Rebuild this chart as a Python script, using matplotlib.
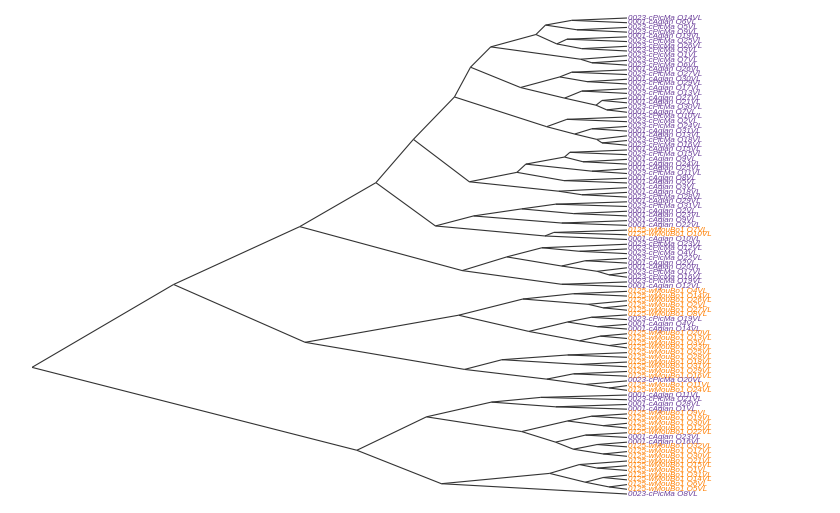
import matplotlib.pyplot as plt

# leaf labels, top to bottom
labels = [
    "0023-cPicMa O14VL", "0001-cAglan O6VL", "0023-cPicMa O5VL", "0023-cPicMa O9VL",
    "0001-cAglan O19VL", "0023-cPicMa O25VL", "0023-cPicMa O26VL", "0023-cPicMa O3VL",
    "0023-cPicMa O1VL", "0023-cPicMa O7VL", "0023-cPicMa O6VL", "0001-cAglan O26VL",
    "0023-cPicMa O27VL", "0001-cAglan O30VL", "0023-cPicMa O29VL", "0001-cAglan O17VL",
    "0023-cPicMa O13VL", "0001-cAglan O27VL", "0001-cAglan O21VL", "0023-cPicMa O30VL",
    "0001-cAglan O7VL", "0023-cPicMa O10VL", "0023-cPicMa O2VL", "0023-cPicMa O24VL",
    "0001-cAglan O31VL", "0001-cAglan O13VL", "0023-cPicMa O18VL", "0023-cPicMa O16VL",
    "0001-cAglan O15VL", "0023-cPicMa O15VL", "0001-cAglan O9VL", "0001-cAglan O24VL",
    "0001-cAglan O25VL", "0023-cPicMa O11VL", "0001-cAglan O8VL", "0001-cAglan O5VL",
    "0001-cAglan O3VL", "0001-cAglan O18VL", "0023-cPicMa O28VL", "0001-cAglan O29VL",
    "0023-cPicMa O31VL", "0001-cAglan O2VL", "0001-cAglan O23VL", "0001-cAglan O9VL",
    "0001-cAglan O22VL", "0125-wMouBo1 O7VL", "0125-wMouBo1 O10VL", "0001-cAglan O10VL",
    "0023-cPicMa O23VL", "0023-cPicMa O12VL", "0023-cPicMa O4VL", "0023-cPicMa O22VL",
    "0001-cAglan O2VL", "0001-cAglan O20VL", "0023-cPicMa O17VL", "0023-cPicMa O16VL",
    "0023-cPicMa O19VL", "0001-cAglan O12VL", "0125-wMouBo1 O4VL", "0125-wMouBo1 O14VL",
    "0125-wMouBo1 O26VL", "0125-wMouBo1 O2VL", "0125-wMouBo1 O27VL", "0125-wMouBo1 O8VL",
    "0023-cPicMa O19VL", "0001-cAglan O4VL", "0001-cAglan O14VL", "0125-wMouBo1 O20VL",
    "0125-wMouBo1 O13VL", "0125-wMouBo1 O3VL", "0125-wMouBo1 O23VL", "0125-wMouBo1 O25VL",
    "0125-wMouBo1 O28VL", "0125-wMouBo1 O18VL", "0125-wMouBo1 O31VL", "0125-wMouBo1 O29VL",
    "0125-wMouBo1 O16VL", "0023-cPicMa O20VL", "0125-wMouBo1 O11VL", "0125-wMouBo1 O24VL",
    "0001-cAglan O11VL", "0023-cPicMa O21VL", "0001-cAglan O28VL", "0001-cAglan O1VL",
    "0125-wMouBo1 O9VL", "0125-wMouBo1 O19VL", "0125-wMouBo1 O30VL", "0125-wMouBo1 O12VL",
    "0125-wMouBo1 O22VL", "0001-cAglan O23VL", "0001-cAglan O16VL", "0125-wMouBo1 O32VL",
    "0125-wMouBo1 O17VL", "0125-wMouBo1 O30VL", "0125-wMouBo1 O21VL", "0125-wMouBo1 O15VL",
    "0125-wMouBo1 O1VL", "0125-wMouBo1 O31VL", "0125-wMouBo1 O14VL", "0125-wMouBo1 O6VL",
    "0125-wMouBo1 O5VL", "0023-cPicMa O8VL",
]

group_colors = {
    "0001-cAglan": "#6A3D9A",
    "0023-cPicMa": "#6A3D9A",
    "0125-wMouBo1": "#FF7F00",
}

# clades: (height, child, child, ...); ints are leaf indexes
clade_p = (29.0,
           (26.3,
            (22.9,
             (15.3, (13.7, (9.3, 0, 1), (8.4, 2, 3)), (11.8, (10.1, 4, 5), (7.6, 6, 7))),
             (7.8, 8, (5.9, 9, 10))),
            (17.9,
             (11.3, (9.3, 11, 12), (6.7, 13, 14)),
             (10.5, (7.6, 15, 16), (5.2, (4.2, 17, 18), (3.4, 19, 20))))),
           (13.5, (10.1, 21, 22), (8.8, (5.9, 23, 24), (5.1, 25, (4.2, 26, 27)))))
clade_q = (26.5,
           (18.5,
            (17.0, (10.5, (9.6, 28, 29), (7.4, 30, 31)), (5.9, 32, 33)),
            (10.6, 34, 35)),
           (11.5, 36, (7.6, 37, 38)))
clade_a1a = (42.2,
             (35.9, clade_p, clade_q),
             (32.2,
              (25.8, (17.7, (12.0, 39, 40), (9.0, 41, 42)), (11.0, 43, 44)),
              (13.8, (12.3, 45, 46), 47)))
clade_a1b = (27.7,
             (20.2,
              (14.3, 48, (8.0, 49, 50)),
              (11.0, (7.0, 51, 52), (5.0, 53, (3.0, 54, 55)))),
             (11.0, 56, 57))
clade_a2 = (54.1,
            (28.3,
             (17.5, (9.0, 58, 59), (6.5, 60, (4.0, 61, 62))),
             (16.5, (10.0, (6.0, 63, 64), (5.0, 65, 66)), (8.0, (4.5, 67, 68), (3.0, 69, 70)))),
            (27.3,
             (21.0, (10.0, 71, 72), (8.0, 73, 74)),
             (13.5, (9.0, 75, 76), (7.0, 77, (3.0, 78, 79)))))
clade_b = (45.4,
           (33.7,
            (22.8, (14.5, 80, 81), (12.0, 82, 83)),
            (17.7,
             (10.0, (6.0, 84, 85), (4.0, 86, 87)),
             (12.0, (7.0, 88, 89), (9.0, (5.0, 90, 91), (4.0, 92, 93))))),
           (31.2,
            (13.0,
             (8.0, 94, (5.0, 95, 96)),
             (7.0, (4.0, 97, 98), (3.0, 99, 100))),
            101))
tree = (100.0, (76.2, (55.0, clade_a1a, clade_a1b), clade_a2), clade_b)

fig = plt.figure(figsize=(8.4, 5.13), dpi=100)
ax = fig.add_axes([32 / 840, 0, (627 - 32) / 840, 1])


def draw(node):
    if isinstance(node, int):
        return 0.0, float(node)
    h = node[0]
    kids = [draw(c) for c in node[1:]]
    y = (kids[0][1] + kids[-1][1]) / 2
    for kh, ky in kids:
        ax.plot([h, kh], [y, ky], color="#333333", lw=0.8, solid_capstyle="butt")
    return h, y


draw(tree)

for i, lab in enumerate(labels):
    ax.annotate(lab, xy=(0, i), xytext=(1.0, 0), textcoords="offset points",
                va="center", ha="left", fontsize=5.8, style="italic",
                family="Liberation Sans", color=group_colors[lab.split(" ")[0]],
                annotation_clip=False)

ax.set_xlim(100, 0)
ax.set_ylim(105.03, -3.82)
ax.axis("off")

fig.savefig("out.png", dpi=100)
